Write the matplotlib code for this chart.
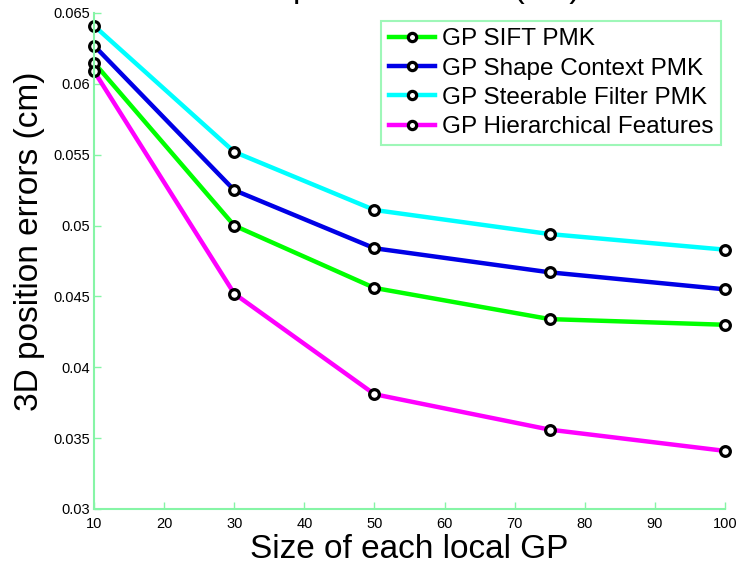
import matplotlib
matplotlib.use("Agg")
import matplotlib.pyplot as plt

plt.rcParams['font.family'] = ['Liberation Sans', 'DejaVu Sans']

gp_sizes = [10, 30, 50, 75, 100]
sift_pmk = [0.0615, 0.0500, 0.0456, 0.0434, 0.0430]
shape_context_pmk = [0.0627, 0.0525, 0.0484, 0.0467, 0.0455]
steerable_filter_pmk = [0.0641, 0.0552, 0.0511, 0.0494, 0.0483]
hierarchical_features = [0.0609, 0.0452, 0.0381, 0.0356, 0.0341]

series_names = ["GP SIFT PMK", "GP Shape Context PMK",
                "GP Steerable Filter PMK", "GP Hierarchical Features"]
series_values = [sift_pmk, shape_context_pmk, steerable_filter_pmk,
                 hierarchical_features]
series_colors = ["#00FF00", "#0000E6", "#00FFFF", "#FF00FF"]

xticks = [10, 20, 30, 40, 50, 60, 70, 80, 90, 100]
yticks = [0.03, 0.035, 0.04, 0.045, 0.05, 0.055, 0.06, 0.065]
ytick_labels = ["0.03", "0.035", "0.04", "0.045", "0.05", "0.055", "0.06", "0.065"]

axis_green = "#86F5A6"

fig = plt.figure(figsize=(7.38, 5.66), dpi=100)
ax = fig.add_axes([94 / 738, 1 - 509 / 566, 631 / 738, 496 / 566])

for name, vals, col in zip(series_names, series_values, series_colors):
    ax.plot(gp_sizes, vals, color=col, lw=3.2, marker='o', ms=7,
            mec='black', mew=2.3, mfc='white', label=name, clip_on=False)

ax.set_xlim(10, 100)
ax.set_ylim(0.03, 0.065)
ax.set_xticks(xticks)
ax.set_xticklabels([str(t) for t in xticks])
ax.set_yticks(yticks)
ax.set_yticklabels(ytick_labels)

for side in ("top", "right"):
    ax.spines[side].set_visible(False)
for side in ("left", "bottom"):
    ax.spines[side].set_color(axis_green)
    ax.spines[side].set_linewidth(1.5)

ax.tick_params(direction='in', length=5, width=1, color=axis_green,
               labelsize=10.5, labelcolor='black')
ax.tick_params(axis='x', pad=6)
ax.tick_params(axis='y', pad=3)

ax.set_xlabel("Size of each local GP", fontsize=24, labelpad=2)
ax.set_ylabel("3D position errors (cm)", fontsize=24)
ax.yaxis.set_label_coords(-0.078, 0.54)

fig.text(411 / 738, 1 + 2.5 / 566, "3D position errors (cm)", fontsize=24,
         ha='center', va='baseline')

leg = ax.legend(loc='upper right', bbox_to_anchor=(0.9937, 0.9839),
                fontsize=17.5, frameon=True, fancybox=False,
                handlelength=1.9, handletextpad=0.3, borderpad=0.3,
                labelspacing=0.3, borderaxespad=0.0, markerscale=0.85)
leg.get_frame().set_edgecolor(axis_green)
leg.get_frame().set_linewidth(1.5)

fig.savefig("out.png", dpi=100)
